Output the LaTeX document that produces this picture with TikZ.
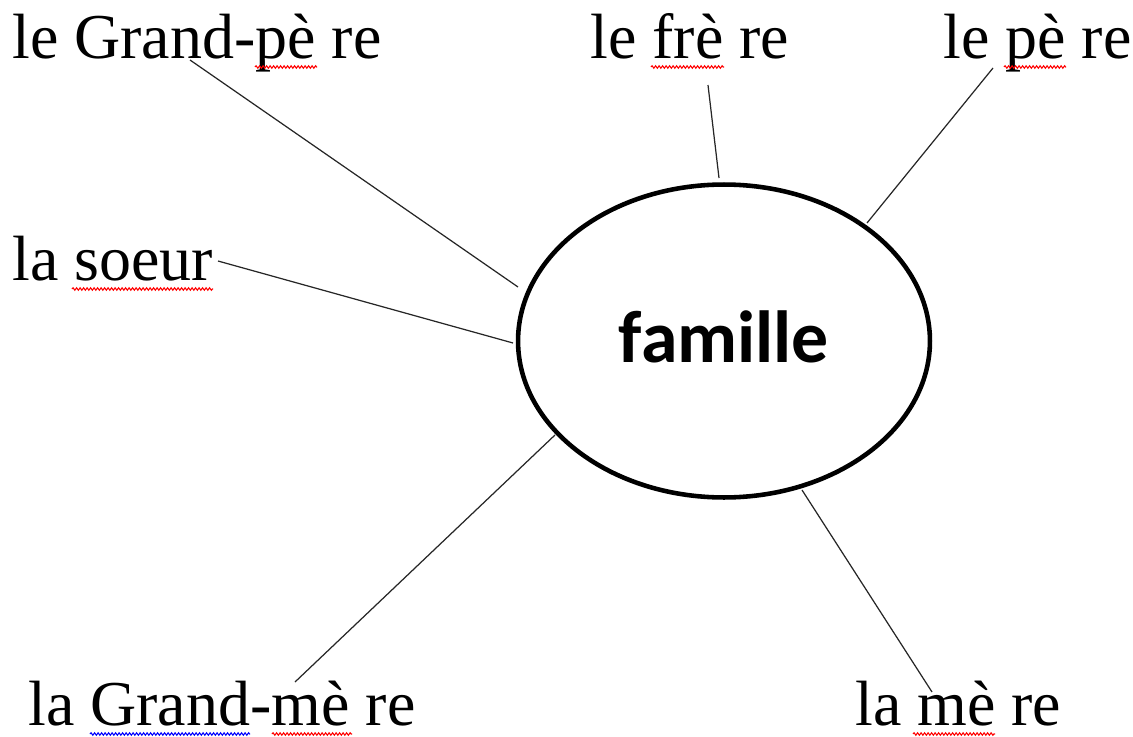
\documentclass[tikz,border=0pt]{standalone}
\usepackage{fontspec}
\setmainfont{Liberation Serif}
\newfontfamily\famfont{Carlito}
\usetikzlibrary{shapes.geometric}
\usetikzlibrary{decorations.pathmorphing}
\tikzset{word/.style={anchor=base west, inner sep=0pt, font=\fontsize{36.4}{36}\selectfont}}
\tikzset{twig/.style={line width=0.7pt, black!85}}
\tikzset{wavy/.style={red, line width=0.6pt, decorate, decoration={snake, segment length=0.07cm, amplitude=0.025cm}}}

\begin{document}
\begin{tikzpicture}[x=0.02cm, y=-0.02cm]
  \useasboundingbox (0,0) rectangle (1133,737);
  \node (fam) at (724,341) [draw, ellipse, line width=2.6pt, inner sep=0pt,
    minimum width=8.24cm, minimum height=6.26cm, text depth=0.16cm,
    font=\famfont\bfseries\fontsize{42}{42}\selectfont] {famille};
  % labels
  \node (gpere) at (12,58) [word] {le Grand-pè re};
  \node (frere) at (590,58) [word] {le frè re};
  \node (pere) at (943,58) [word] {le pè re};
  \node (soeur) at (12,280) [word] {la soeur};
  \node (gmere) at (28,725) [word] {la Grand-mè re};
  \node (mere) at (855,725) [word] {la mè re};
  % ends of the twigs
  \coordinate (gpere1) at (190,60);  \coordinate (gpere2) at (518,287);
  \coordinate (frere1) at (708,85);  \coordinate (frere2) at (719,178);
  \coordinate (pere1) at (993,68);   \coordinate (pere2) at (867,223);
  \coordinate (soeur1) at (218,261); \coordinate (soeur2) at (513,343);
  \coordinate (gmere1) at (295,682); \coordinate (gmere2) at (555,435);
  \coordinate (mere1) at (932,692);  \coordinate (mere2) at (802,490);
  \foreach \w in {gpere,frere,pere,soeur,gmere,mere}
    \draw [twig] (\w1) -- (\w2);
  % spelling marks
  \draw [wavy] (255,67) -- (317,67);
  \draw [wavy] (651,67) -- (724,67);
  \draw [wavy] (1004,67) -- (1066,67);
  \draw [wavy] (72,289) -- (213,289);
  \draw [wavy, blue] (90,734) -- (250,734);
  \draw [wavy] (272,734) -- (352,734);
  \draw [wavy] (913,734) -- (995,734);
\end{tikzpicture}
\end{document}
